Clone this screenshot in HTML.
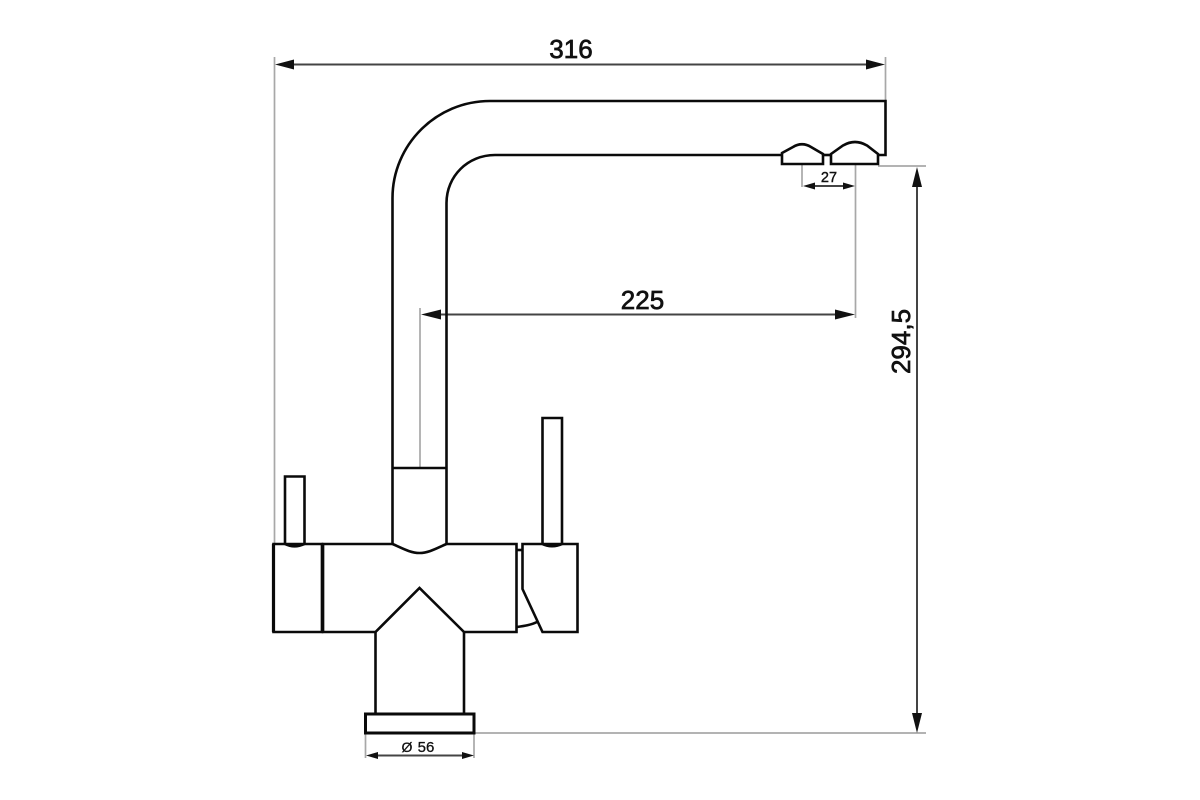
<!DOCTYPE html>
<html>
<head>
<meta charset="utf-8">
<style>
html,body{margin:0;padding:0;background:#fff;}
svg{display:block;}
text{font-family:"Liberation Sans",sans-serif;fill:#111;stroke:#111;text-anchor:middle;}
</style>
</head>
<body>
<svg width="1200" height="800" viewBox="0 0 1200 800" xmlns="http://www.w3.org/2000/svg">
<rect width="1200" height="800" fill="#fff"/>
<!-- extension lines -->
<g stroke="#a8a8a8" stroke-width="1.7" fill="none">
<path d="M274.5 57V544"/>
<path d="M885.5 57V101"/>
<path d="M420 308V468"/>
<path d="M802 164V187"/>
<path d="M855.5 164V318"/>
<path d="M878 166H926"/>
<path d="M474 733H926"/>
<path d="M365.5 733V758"/>
<path d="M474 733V758"/>
</g>
<!-- dimension lines -->
<g stroke="#444" stroke-width="2" fill="none">
<path d="M285 64.5H875"/>
<path d="M430 314.5H845"/>
<path d="M810 186H848"/>
<path d="M375 755.5H465"/>
<path d="M917 178V722"/>
</g>
<!-- arrowheads -->
<g fill="#111">
<path d="M275 64.5L294 59.5V69.5Z"/>
<path d="M885 64.5L866 59.5V69.5Z"/>
<path d="M421 314.5L441 309.5V319.5Z"/>
<path d="M855 314.5L835 309.5V319.5Z"/>
<path d="M803 186L815 182.5V189.5Z"/>
<path d="M855 186L843 182.5V189.5Z"/>
<path d="M366 755.5L378 752V759Z"/>
<path d="M474 755.5L462 752V759Z"/>
<path d="M917 167L912 187H922Z"/>
<path d="M917 733L912 713H922Z"/>
</g>
<!-- faucet -->
<g stroke="#0a0a0a" stroke-width="2.6" fill="none" stroke-linejoin="miter">
<!-- spout -->
<path d="M392.5 544V198C392.5 145 436 101 490 101H885.5V155H878"/>
<path d="M446.5 544V203C446.5 176 468 155 495 155H782"/>
<path d="M823 155H831"/>
<path d="M392.5 468H446.5"/>
<!-- aerators -->
<path d="M782 164V153L793 147Q802 141.5 811 147L823 154V164Z"/>
<path d="M831 164V154L843 145.5Q855 138.5 867 145.5L878 154V164Z"/>
<!-- main body -->
<path d="M323 544H392.5C402 548 410 553 419.5 553C429 553 437 548 446.5 544H516.5V632H464L419.5 588L375.5 632H323Z"/>
<path d="M273.5 544H322V632H273.5Z"/>
<path stroke-width="3.2" d="M273.5 544V632M322.5 544V632"/>
<!-- left handle -->
<path d="M285 544V476.5H304.5V544"/>
<path d="M285 544C291 547 298 547 304.5 544"/>
<!-- right handle -->
<path d="M542.5 544V418H562V544"/>
<path d="M542.5 544C548 547 556 547 562 544"/>
<!-- right box -->
<path d="M522.5 544H577.5V632H542.5L522.5 589Z"/>
<path d="M516.5 550H522.5"/>
<path d="M517 627C524 626 531 625 537 622"/>
<!-- stem and base -->
<path d="M375.5 632V714"/>
<path d="M464 632V714"/>
<path stroke-width="3" d="M365.5 714H474V733H365.5Z"/>
</g>
<!-- labels -->
<text x="571" y="58" font-size="26" stroke-width="0.7">316</text>
<text x="642.5" y="309" font-size="26" stroke-width="0.7">225</text>
<text x="829" y="182" font-size="14.5" stroke-width="0.4">27</text>
<text x="426" y="752" font-size="15" stroke-width="0.3">56</text>
<text x="407" y="752" font-size="14" stroke-width="0.3">Ø</text>
<text x="0" y="0" font-size="26" stroke-width="0.7" transform="translate(910 341.5) rotate(-90)">294,5</text>
</svg>
</body>
</html>
